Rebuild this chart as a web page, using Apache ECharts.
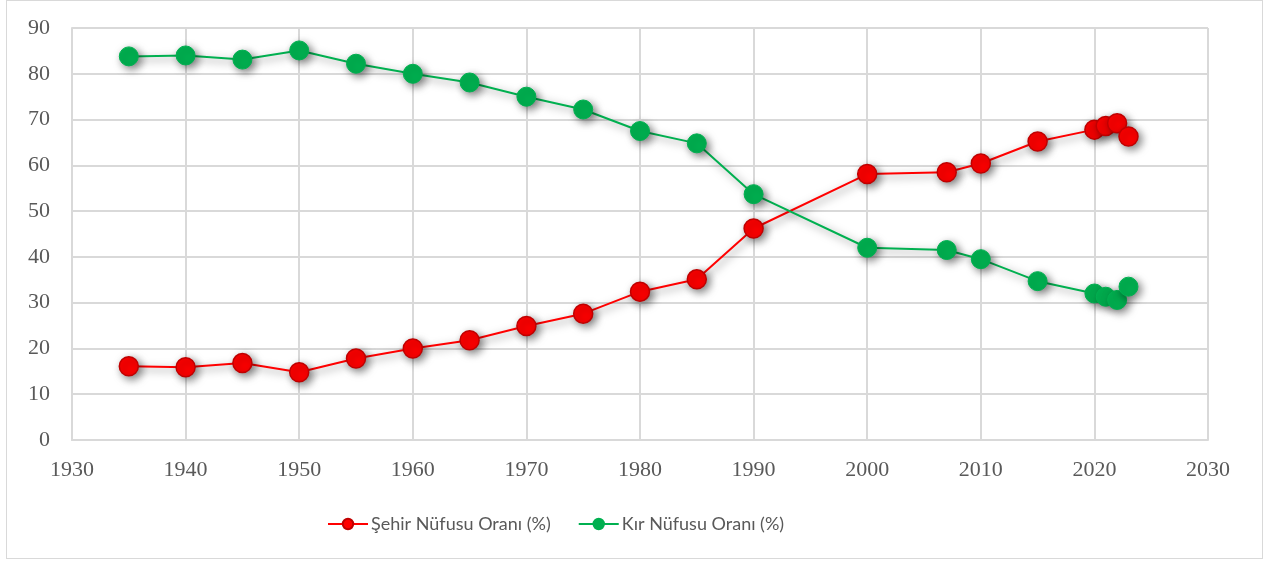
<!DOCTYPE html>
<html><head><meta charset="utf-8">
<script src="https://cdn.jsdelivr.net/npm/echarts@6/dist/echarts.min.js"></script>
<style>
html,body{margin:0;padding:0;background:#fff;}
#frame{position:absolute;left:6px;top:0;width:1257px;height:559px;border:1px solid #d9d9d9;box-sizing:border-box;}
#c{position:absolute;left:0;top:0;width:1270px;height:563px;}
</style></head>
<body>
<div id="frame"></div>
<div id="c"></div>
<script>
const years = [1935,1940,1945,1950,1955,1960,1965,1970,1975,1980,1985,1990,2000,2007,2010,2015,2020,2021,2022,2023];
const urban = [16.1,15.9,16.8,14.8,17.8,20.0,21.8,24.9,27.6,32.4,35.1,46.2,58.1,58.5,60.4,65.2,67.8,68.6,69.2,66.3];
const rural = [83.8,84.0,83.1,85.1,82.2,80.0,78.1,75.0,72.2,67.5,64.8,53.7,42.0,41.5,39.5,34.7,32.0,31.3,30.6,33.5];
const seriesNames = ['Şehir Nüfusu Oranı (%)','Kır Nüfusu Oranı (%)'];

const chart = echarts.init(document.getElementById('c'));
const axisFont = {color:'#595959', fontFamily:'Liberation Serif', fontSize:22};
const shadow = {shadowColor:'rgba(0,0,0,0.5)', shadowBlur:8, shadowOffsetX:3, shadowOffsetY:3};
chart.setOption({
  animation:false,
  grid:{left:72,right:62,top:28,bottom:123},
  legend:{
    bottom:25, left:322, itemWidth:40, itemHeight:13, itemGap:27,
    textStyle:{color:'#595959', fontFamily:'Lato', fontSize:18, padding:[0,0,0,-2]},
    data:seriesNames
  },
  xAxis:{type:'value',min:1930,max:2030,interval:10,
    axisLine:{lineStyle:{color:'#d9d9d9',width:2}},axisTick:{show:false},
    splitLine:{lineStyle:{color:'#d9d9d9',width:2}},
    axisLabel:Object.assign({margin:19,formatter:v=>String(v)},axisFont)},
  yAxis:{type:'value',min:0,max:90,interval:10,
    axisLine:{show:true,lineStyle:{color:'#d9d9d9',width:2}},axisTick:{show:false},
    splitLine:{lineStyle:{color:'#d9d9d9',width:2}},
    axisLabel:Object.assign({margin:22},axisFont)},
  series:[
    {name:seriesNames[0],type:'line',data:years.map((y,i)=>[y,urban[i]]),
     symbol:'circle',symbolSize:19,
     lineStyle:Object.assign({color:'#ff0000',width:2},shadow),
     itemStyle:Object.assign({color:'#ff0000',borderColor:'#c00000',borderWidth:1.5},shadow)},
    {name:seriesNames[1],type:'line',data:years.map((y,i)=>[y,rural[i]]),
     symbol:'circle',symbolSize:19,
     lineStyle:Object.assign({color:'#00b050',width:2},shadow),
     itemStyle:Object.assign({color:'#00b050',borderColor:'#00b050',borderWidth:1},shadow)}
  ]
});
</script>
</body></html>
